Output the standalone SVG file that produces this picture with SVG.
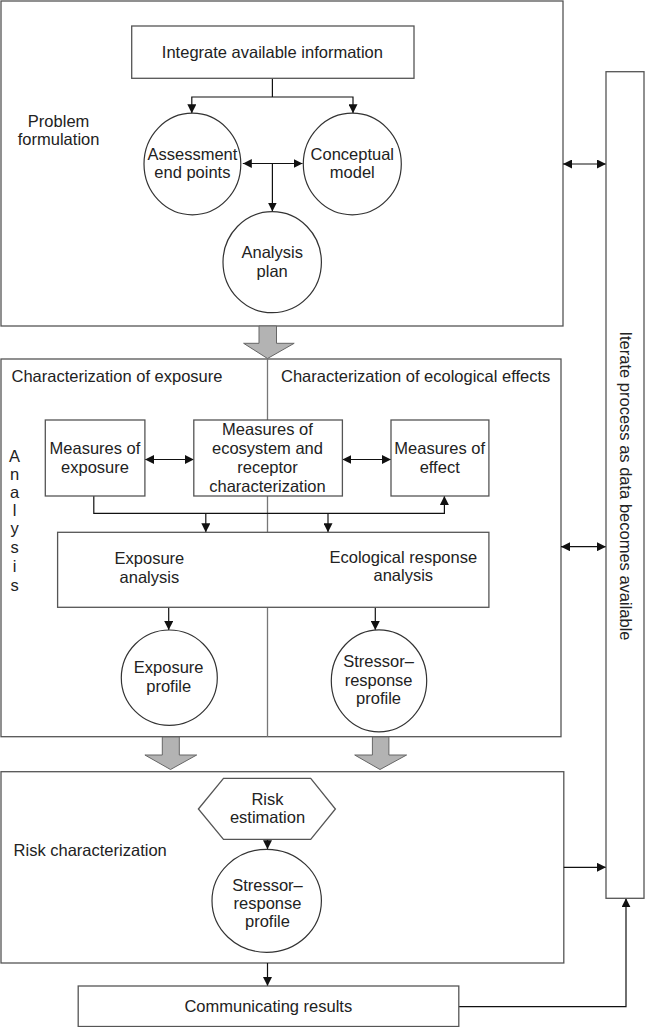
<svg xmlns="http://www.w3.org/2000/svg" width="645" height="1027" viewBox="0 0 645 1027">
<defs>
<marker id="ah" viewBox="0 0 10 10" refX="10" refY="5" markerWidth="9" markerHeight="9" markerUnits="userSpaceOnUse" orient="auto-start-reverse">
<path d="M0,0 L10,5 L0,10 z" fill="#111"/>
</marker>
<style>
text{font-family:"Liberation Sans",Arial,sans-serif;font-size:16.5px;fill:#222;}
.c{text-anchor:middle;}
.box{fill:#fff;stroke:#555;stroke-width:1.3;}
.frame{fill:none;stroke:#555;stroke-width:1.3;}
.node{fill:#fff;stroke:#333;stroke-width:1.2;}
.ln{fill:none;stroke:#111;stroke-width:1.2;}
.dv{fill:none;stroke:#777;stroke-width:1.3;}
.big{fill:#b3b3b3;stroke:#666;stroke-width:1;}
.arr{marker-end:url(#ah);}
.dbl{marker-start:url(#ah);marker-end:url(#ah);}
</style>
</defs>
<rect width="645" height="1027" fill="#fff"/>

<g id="problem-formulation">
<rect class="frame" x="1" y="1" width="562" height="325"/>
<text class="c" x="58.6" y="126.7">Problem</text>
<text class="c" x="58.6" y="145">formulation</text>
</g>

<g id="analysis">
<rect class="frame" x="1" y="359" width="560" height="377.7"/>
<text x="11.5" y="381.7">Characterization of exposure</text>
<text x="281" y="381.7">Characterization of ecological effects</text>
<text class="c" x="14.5" y="461.7">A</text>
<text class="c" x="14.5" y="479.5">n</text>
<text class="c" x="14.5" y="497.5">a</text>
<text class="c" x="14.5" y="515.5">l</text>
<text class="c" x="14.5" y="533.5">y</text>
<text class="c" x="14.5" y="553">s</text>
<text class="c" x="14.5" y="572">i</text>
<text class="c" x="14.5" y="591">s</text>
</g>

<g id="risk-characterization">
<rect class="frame" x="1" y="771.7" width="562.8" height="191.3"/>
<text x="13.6" y="856">Risk characterization</text>
</g>

<g id="connectors">
<path class="ln" d="M272.4,78.3 V97"/>
<path class="ln dbl" d="M191.8,113.3 V97 H353 V113.3"/>
<path class="ln dbl" d="M242.8,163.5 H302.5"/>
<path class="ln arr" d="M272.4,163.5 V211.5"/>
<path class="ln dbl" d="M563,164 H606"/>
<path class="ln dbl" d="M145,459.5 H193.8"/>
<path class="ln dbl" d="M342.4,459.5 H391"/>
<path class="dv" d="M267.5,359 V420 M267.5,496 V532.3 M267.5,607.3 V736.7"/>
<path class="ln arr" d="M93.8,496 V513.3 H444.4 V496"/>
<path class="ln arr" d="M205.8,513.3 V532.3"/>
<path class="ln arr" d="M328,513.3 V532.3"/>
<path class="ln arr" d="M168.7,607.3 V630"/>
<path class="ln arr" d="M375.3,607.3 V630"/>
<path class="ln dbl" d="M561,546.7 H606"/>
<path class="ln arr" d="M267.5,839.3 V849.3"/>
<path class="ln arr" d="M563.8,867.3 H606"/>
<path class="ln arr" d="M267.5,963 V986"/>
<path class="ln arr" d="M458.8,1006.7 H626 V898.3"/>
<path class="big" d="M259,326 H276.5 V343.3 H294.2 L267.5,358.5 L243.6,343.3 H259 Z"/>
<path class="big" d="M162.3,737 H179.3 V755 H196.7 L170.5,769.5 L144.9,755 H162.3 Z"/>
<path class="big" d="M372.4,737 H388.9 V755 H406.6 L380,769.5 L354.7,755 H372.4 Z"/>
</g>

<g id="integrate">
<rect class="box" x="131.7" y="26" width="282.3" height="52.3"/>
<text class="c" x="272.4" y="58.3">Integrate available information</text>
</g>

<g id="assessment-end-points">
<ellipse class="node" cx="192.4" cy="164" rx="48.4" ry="50.8"/>
<text class="c" x="192.4" y="160">Assessment</text>
<text class="c" x="192.4" y="178.3">end points</text>
</g>

<g id="conceptual-model">
<ellipse class="node" cx="352.3" cy="164" rx="49" ry="50.8"/>
<text class="c" x="352.3" y="160">Conceptual</text>
<text class="c" x="352.3" y="178.3">model</text>
</g>

<g id="analysis-plan">
<ellipse class="node" cx="272.2" cy="262.2" rx="49.2" ry="50.5"/>
<text class="c" x="272.2" y="258.3">Analysis</text>
<text class="c" x="272.2" y="276.5">plan</text>
</g>

<g id="iterate">
<rect class="box" x="606" y="71.7" width="38" height="826.6"/>
<text class="c" transform="translate(619.5,486) rotate(90)" x="0" y="0">Iterate process as data becomes available</text>
</g>

<g id="measures-of-exposure">
<rect class="box" x="45.3" y="420" width="99.6" height="76"/>
<text class="c" x="95" y="454">Measures of</text>
<text class="c" x="95" y="472.7">exposure</text>
</g>

<g id="measures-of-ecosystem">
<rect class="box" x="193.8" y="420" width="148.6" height="76"/>
<text class="c" x="267.5" y="435">Measures of</text>
<text class="c" x="267.5" y="454">ecosystem and</text>
<text class="c" x="267.5" y="472.7">receptor</text>
<text class="c" x="267.5" y="491.5">characterization</text>
</g>

<g id="measures-of-effect">
<rect class="box" x="391" y="420" width="97.9" height="76"/>
<text class="c" x="439.7" y="454">Measures of</text>
<text class="c" x="439.7" y="472.7">effect</text>
</g>

<g id="analysis-box">
<rect class="box" x="57.6" y="532.3" width="431.3" height="75"/>
<text class="c" x="149.4" y="564.3">Exposure</text>
<text class="c" x="149.4" y="582.7">analysis</text>
<text class="c" x="403.3" y="562.7">Ecological response</text>
<text class="c" x="403.3" y="580.7">analysis</text>
</g>

<g id="exposure-profile">
<ellipse class="node" cx="169.3" cy="677.7" rx="48" ry="47.7"/>
<text class="c" x="168.7" y="673.3">Exposure</text>
<text class="c" x="168.7" y="691.7">profile</text>
</g>

<g id="stressor-response-profile-1">
<ellipse class="node" cx="379" cy="680.8" rx="47.7" ry="51"/>
<text class="c" x="378.6" y="667.3">Stressor–</text>
<text class="c" x="378.6" y="685.5">response</text>
<text class="c" x="378.6" y="704">profile</text>
</g>

<g id="risk-estimation">
<polygon class="box" points="198.4,809 223.5,778.3 310.7,778.3 335.4,809 310.7,839.3 223.5,839.3"/>
<text class="c" x="267.5" y="805">Risk</text>
<text class="c" x="267.5" y="823.3">estimation</text>
</g>

<g id="stressor-response-profile-2">
<ellipse class="node" cx="266.7" cy="900.8" rx="54.7" ry="51.5"/>
<text class="c" x="267.5" y="890.7">Stressor–</text>
<text class="c" x="267.5" y="908.8">response</text>
<text class="c" x="267.5" y="927.3">profile</text>
</g>

<g id="communicating-results">
<rect class="box" x="78.2" y="986" width="380.6" height="40.5"/>
<text class="c" x="268.3" y="1011.7">Communicating results</text>
</g>
</svg>
